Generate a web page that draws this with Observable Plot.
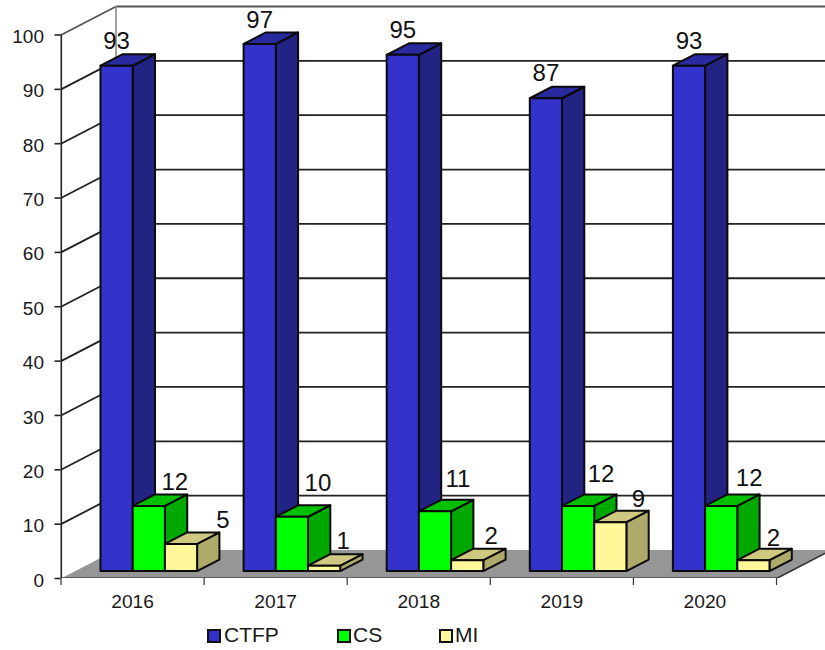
<!DOCTYPE html>
<html>
<head>
<meta charset="utf-8">
<script src="https://cdn.jsdelivr.net/npm/d3@7"></script>
<script src="https://cdn.jsdelivr.net/npm/@observablehq/plot@0.6"></script>
<style>
  html, body { margin: 0; padding: 0; background: #fff; }
  body { width: 825px; font-family: "Liberation Sans", Arial, sans-serif; color: #1a1a1a; }
  #chart svg { display: block; }
  #legend { position: relative; width: 825px; height: 32px; font-size: 21px; }
  #legend .sw { position: absolute; top: 11px; width: 10px; height: 10px; border: 2px solid #111; }
  #legend .tx { position: absolute; top: 5px; line-height: 24px; }
</style>
</head>
<body>
<div id="chart"></div>
<div id="legend"></div>
<script>
// ---- data ----
const years = ["2016", "2017", "2018", "2019", "2020"];
const seriesNames = ["CTFP", "CS", "MI"];
const ctfp = [93, 97, 95, 87, 93];
const cs = [12, 10, 11, 12, 12];
const mi = [5, 1, 2, 9, 2];
const yTicks = [0, 10, 20, 30, 40, 50, 60, 70, 80, 90, 100];

// ---- styling and depth geometry (in data units of the two scales) ----
const palette = [
  {front: "#3333cc", side: "#232383", top: "#2a2aa0"},
  {front: "#00ff00", side: "#00a800", top: "#00c000"},
  {front: "#fff799", side: "#aeaa6a", top: "#cfc880"}
];
// hand placement of the value labels, in pixels, per year and series
const labelNudgeX = [
  [0, 26, 42],
  [0, 26, 19],
  [0, 23, 24],
  [0, 23, 28],
  [0, 28, 20]
];
const labelNudgeY = [
  [0, 0, 0],
  [0, -9, 0],
  [0, -8, 0],
  [-1, -8, 1],
  [0, -3.5, 2]
];
const pxX = 143.1;             // one category in pixels
const pxY = 5.435;             // one y unit in pixels
const wallDx = 55 / pxX, wallDy = 28.5 / pxY;
const barLeft = 39.5 / pxX, barW = 32.2 / pxX;
const barBase = 7.4 / pxY;
const sideDx = 22.3 / pxX, sideDy = 11.5 / pxY;
const edge = "#0a0a0a";
const gridColor = "#222";

const W = 825, H = 618;
const values = [ctfp, cs, mi];
const nCat = years.length;

const poly = (pts, fill, stroke = edge, strokeWidth = 2) =>
  Plot.line(pts, {x: "x", y: "y", fill, stroke, strokeWidth, curve: "linear-closed", clip: true});
const seg = (pts, stroke = gridColor, strokeWidth = 1.8) =>
  Plot.line(pts, {x: "x", y: "y", stroke, strokeWidth, clip: true});
const P = (x, y) => ({x, y});

const marks = [];

// floor
marks.push(Plot.line(
  [P(0, 0), P(nCat, 0), P(nCat + wallDx, wallDy), P(wallDx, wallDy)],
  {x: "x", y: "y", fill: "#969696", stroke: "none", curve: "linear-closed", clip: true}
));

// walls: left diagonals and back lines
const xRight = nCat + wallDx;
yTicks.forEach(t => {
  if (t === 0) return;
  const c = t === 100 ? "#555" : gridColor;
  marks.push(seg([P(0, t), P(wallDx, t + wallDy), P(xRight, t + wallDy)], c));
});
marks.push(seg([P(wallDx, wallDy), P(wallDx, 100 + wallDy)], "#8a8a8a", 1.6));
marks.push(seg([P(nCat, 0), P(nCat + wallDx, wallDy)], "#333", 1.6));

// bars
const labels = [];
years.forEach((yr, i) => {
  values.forEach((vals, s) => {
    const v = vals[i];
    const x0 = i + barLeft + s * barW, x1 = x0 + barW;
    const y0 = barBase, y1 = barBase + v;
    const c = palette[s];
    marks.push(poly([P(x1, y0), P(x1 + sideDx, y0 + sideDy), P(x1 + sideDx, y1 + sideDy), P(x1, y1)], c.side));
    marks.push(poly([P(x0, y1), P(x1, y1), P(x1 + sideDx, y1 + sideDy), P(x0 + sideDx, y1 + sideDy)], c.top));
    marks.push(poly([P(x0, y0), P(x1, y0), P(x1, y1), P(x0, y1)], c.front));
    labels.push({
      x: (x0 + x1) / 2 + labelNudgeX[i][s] / pxX,
      y: y1 - labelNudgeY[i][s] / pxY,
      text: String(v)
    });
  });
});

// axis lines
marks.push(seg([P(0, 0), P(nCat, 0)], "#222", 2.2));
marks.push(seg([P(0, 0), P(0, 100)], "#222", 2.2));

// data labels
marks.push(Plot.text(labels, {
  x: "x", y: "y", text: "text", dy: -24, fontSize: 24, fill: "#111",
  textAnchor: "middle", lineAnchor: "middle"
}));

// axes
marks.push(Plot.axisY(yTicks, {
  anchor: "left", tickSize: 6, stroke: "#222", strokeWidth: 1.6, label: null, tickFormat: () => ""
}));
marks.push(Plot.text(yTicks, {
  x: 0, y: d => d, text: d => String(d), dx: -17, dy: 2, fontSize: 19, fill: "#1a1a1a",
  textAnchor: "end", lineAnchor: "middle"
}));
marks.push(Plot.axisX(d3.range(nCat + 1), {
  anchor: "bottom", tickSize: 7, stroke: "#333", strokeWidth: 1.2, label: null, tickFormat: () => ""
}));
marks.push(Plot.text(years, {
  x: (d, i) => i + 0.5, y: 0, text: d => d, dy: 23.5, fontSize: 19.2, fill: "#1a1a1a",
  textAnchor: "middle", lineAnchor: "middle"
}));

const chart = Plot.plot({
  width: W, height: H,
  marginLeft: 60.5, marginRight: 0, marginTop: 0, marginBottom: H - 578,
  style: {background: "#fff", fontFamily: '"Liberation Sans", Arial, sans-serif', overflow: "hidden"},
  x: {type: "linear", domain: [0, nCat], range: [60.5, 60.5 + nCat * pxX], axis: null},
  y: {type: "linear", domain: [0, 100], range: [578, 578 - 100 * pxY], axis: null},
  marks
});
document.getElementById("chart").append(chart);

// legend
const legendAt = [207, 337, 439];
const legendTextAt = [224, 353, 455];
const legend = d3.select("#legend");
seriesNames.forEach((name, s) => {
  legend.append("span").attr("class", "sw")
    .style("left", legendAt[s] + "px").style("background", palette[s].front);
  legend.append("span").attr("class", "tx")
    .style("left", legendTextAt[s] + "px").text(name);
});
</script>
</body>
</html>
